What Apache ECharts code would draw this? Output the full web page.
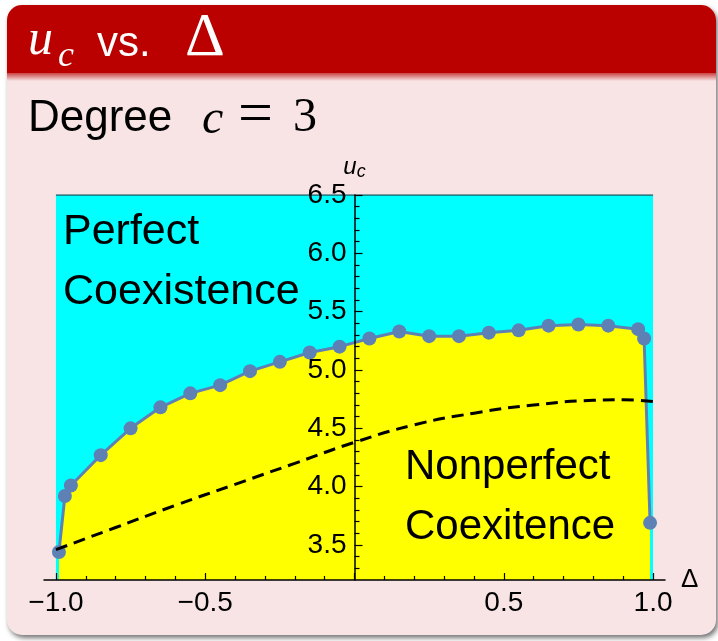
<!DOCTYPE html>
<html>
<head>
<meta charset="utf-8">
<title>u_c vs. Delta</title>
<script src="https://cdn.jsdelivr.net/npm/echarts@6.0.0/dist/echarts.min.js"></script>
<style>
  html, body { margin: 0; padding: 0; background: #ffffff; }
  #main { width: 718px; height: 641px; }
</style>
</head>
<body>
<div id="main"></div>
<script>
// 数据点 (Δ, u_c)
var deltaPts = [-0.99, -0.97, -0.95, -0.85, -0.75, -0.65, -0.55, -0.45, -0.35, -0.25, -0.15, -0.05,
  0.05, 0.15, 0.25, 0.35, 0.45, 0.55, 0.65, 0.75, 0.85, 0.95, 0.97, 0.99];
var ucPts = [3.44, 3.92, 4.01, 4.27, 4.50, 4.68, 4.80, 4.87, 4.99, 5.07, 5.15, 5.20,
  5.27, 5.33, 5.29, 5.29, 5.32, 5.34, 5.38, 5.39, 5.38, 5.35, 5.27, 3.69];

// 虚线
var deltaDash = [-1.0, -0.8, -0.6, -0.4, -0.2, 0.0, 0.2, 0.4, 0.6, 0.8, 0.9, 1.0];
var ucDash = [3.46, 3.65, 3.84, 4.02, 4.20, 4.38, 4.53, 4.63, 4.70, 4.74, 4.745, 4.73];

// 区域范围
var regionDelta = [-1.0, 1.0];
var regionTop = 6.5;

// 坐标轴
var xRange = [-1.04, 1.04];
var yRange = [3.2, 6.5];
var xLabels = [-1.0, -0.5, 0.5, 1.0];
var xMajorTicks = [-1.0, -0.5, 0.0, 0.5, 1.0];
var xMinorTicks = [-0.9, -0.8, -0.7, -0.6, -0.4, -0.3, -0.2, -0.1, 0.1, 0.2, 0.3, 0.4, 0.6, 0.7, 0.8, 0.9];
var yLabels = [3.5, 4.0, 4.5, 5.0, 5.5, 6.0, 6.5];
var yMinorTicks = [3.3, 3.4, 3.6, 3.7, 3.8, 3.9, 4.1, 4.2, 4.3, 4.4, 4.6, 4.7, 4.8, 4.9,
  5.1, 5.2, 5.3, 5.4, 5.6, 5.7, 5.8, 5.9, 6.1, 6.2, 6.3, 6.4];

var pairs = function (xs, ys) {
  var out = [];
  for (var i = 0; i < xs.length; i++) out.push([xs[i], ys[i]]);
  return out;
};

var fmt = function (v) {
  return (v < 0 ? '\u2212' : '') + Math.abs(v).toFixed(1);
};

var SANS = '"Liberation Sans", Arial, sans-serif';
var SERIF = '"Liberation Serif", "DejaVu Serif", serif';
var PTCOLOR = '#5E81B5';

var GRID_LEFT = 44, GRID_RIGHT = 53;
// y 轴放在 Δ = 0 处
var plotW = 718 - GRID_LEFT - GRID_RIGHT;
var yOffset = -plotW * (0 - xRange[0]) / (xRange[1] - xRange[0]);

var chart = echarts.init(document.getElementById('main'), null, { renderer: 'canvas' });

var option = {
  animation: false,
  backgroundColor: '#ffffff',
  graphic: [
    // 幻灯片框
    {
      type: 'rect', z: -10,
      shape: { x: 7, y: 5, width: 709, height: 630, r: 15 },
      style: { fill: '#F8E4E4', shadowBlur: 5, shadowOffsetX: 2, shadowOffsetY: 3, shadowColor: 'rgba(0,0,0,0.55)' }
    },
    {
      type: 'rect', z: -9,
      shape: { x: 7, y: 72, width: 709, height: 9 },
      style: {
        fill: new echarts.graphic.LinearGradient(0, 0, 0, 1, [
          { offset: 0, color: '#C43030' },
          { offset: 1, color: '#F8E4E4' }
        ])
      }
    },
    {
      type: 'rect', z: -8,
      shape: { x: 7, y: 5, width: 709, height: 68, r: [15, 15, 0, 0] },
      style: { fill: '#BB0000' }
    },
    // 标题
    { type: 'text', z: 100, x: 28, y: 41, style: { text: 'u', fill: '#fff', font: 'italic 50px ' + SERIF, verticalAlign: 'middle' } },
    { type: 'text', z: 100, x: 58, y: 57, style: { text: 'c', fill: '#fff', font: 'italic 36px ' + SERIF, verticalAlign: 'middle' } },
    { type: 'text', z: 100, x: 97, y: 44, style: { text: 'vs.', fill: '#fff', font: '42px ' + SANS, verticalAlign: 'middle' } },
    { type: 'text', z: 100, x: 185, y: 39, style: { text: '\u0394', fill: '#fff', font: '62px ' + SERIF, verticalAlign: 'middle' } },
    // 副标题
    { type: 'text', z: 100, x: 28, y: 119, style: { text: 'Degree', fill: '#000', font: '44px ' + SANS, verticalAlign: 'middle' } },
    { type: 'text', z: 100, x: 202, y: 120, style: { text: 'c', fill: '#000', font: 'italic 48px ' + SERIF, verticalAlign: 'middle' } },
    { type: 'text', z: 100, x: 238, y: 117, style: { text: '=', fill: '#000', font: '62px ' + SERIF, verticalAlign: 'middle' } },
    { type: 'text', z: 100, x: 293, y: 118, style: { text: '3', fill: '#000', font: '48px ' + SERIF, verticalAlign: 'middle' } },
    // 区域标注
    { type: 'text', z: 100, x: 63, y: 232, style: { text: 'Perfect', fill: '#000', font: '43px ' + SANS, verticalAlign: 'middle' } },
    { type: 'text', z: 100, x: 63, y: 292, style: { text: 'Coexistence', fill: '#000', font: '43px ' + SANS, verticalAlign: 'middle' } },
    { type: 'text', z: 100, x: 405, y: 467, style: { text: 'Nonperfect', fill: '#000', font: '42px ' + SANS, verticalAlign: 'middle' } },
    { type: 'text', z: 100, x: 405, y: 527, style: { text: 'Coexitence', fill: '#000', font: '42px ' + SANS, verticalAlign: 'middle' } }
  ],
  grid: { left: GRID_LEFT, right: GRID_RIGHT, top: 195, bottom: 61, containLabel: false },
  xAxis: [{
    type: 'value', min: xRange[0], max: xRange[1], position: 'bottom', z: 10,
    name: '\u0394', nameLocation: 'end', nameGap: 16,
    nameTextStyle: { fontFamily: SANS, fontSize: 26, color: '#000', verticalAlign: 'middle' },
    axisLine: { onZero: false, lineStyle: { color: '#000', width: 1.5 } },
    axisTick: { inside: true, length: 7, customValues: xMajorTicks, lineStyle: { color: '#000', width: 1.2 } },
    axisLabel: { customValues: xLabels, formatter: fmt, margin: 9, fontFamily: SANS, fontSize: 28, color: '#000' },
    splitLine: { show: false }
  }, {
    type: 'value', min: xRange[0], max: xRange[1], position: 'bottom', z: 10,
    axisLine: { show: false, onZero: false },
    axisTick: { inside: true, length: 4, customValues: xMinorTicks, lineStyle: { color: '#000', width: 1.2 } },
    axisLabel: { show: false },
    splitLine: { show: false }
  }],
  yAxis: [{
    type: 'value', min: yRange[0], max: yRange[1], position: 'left', offset: yOffset, z: 10,
    name: '{u|u}{c|c}', nameLocation: 'end', nameGap: 10,
    nameTextStyle: {
      rich: {
        u: { fontFamily: SANS, fontStyle: 'italic', fontSize: 24, color: '#000' },
        c: { fontFamily: SANS, fontStyle: 'italic', fontSize: 18, color: '#000', padding: [10, 0, 0, 0] }
      }
    },
    axisLine: { onZero: false, lineStyle: { color: '#000', width: 1.5 } },
    axisTick: { inside: true, length: 8, customValues: yLabels, lineStyle: { color: '#000', width: 1.2 } },
    axisLabel: { customValues: yLabels, formatter: fmt, margin: 8, fontFamily: SANS, fontSize: 28, color: '#000' },
    splitLine: { show: false }
  }, {
    type: 'value', min: yRange[0], max: yRange[1], position: 'left', offset: yOffset, z: 10,
    axisLine: { show: false, onZero: false },
    axisTick: { inside: true, length: 5, customValues: yMinorTicks, lineStyle: { color: '#000', width: 1.2 } },
    axisLabel: { show: false },
    splitLine: { show: false }
  }],
  series: [{
    // 青色背景 + 顶边
    type: 'line',
    z: 1,
    data: pairs(regionDelta, [regionTop, regionTop]),
    symbol: 'none',
    lineStyle: { color: '#1E5F66', width: 1.5 },
    markArea: {
      silent: true,
      itemStyle: { color: '#00FFFF', opacity: 1 },
      data: [[{ xAxis: regionDelta[0], yAxis: yRange[0] }, { xAxis: regionDelta[1], yAxis: regionTop }]]
    }
  }, {
    // 黄色区域 + 数据点
    type: 'line',
    z: 3,
    data: pairs(deltaPts, ucPts),
    symbol: 'circle',
    symbolSize: 14,
    showAllSymbol: true,
    itemStyle: { color: PTCOLOR },
    lineStyle: { color: PTCOLOR, width: 3 },
    areaStyle: { color: '#FFFF00', opacity: 1, origin: 'start' }
  }, {
    type: 'line',
    z: 4,
    data: pairs(deltaDash, ucDash),
    smooth: true,
    symbol: 'none',
    lineStyle: { color: '#000', width: 3, type: [12, 7] }
  }]
};

chart.setOption(option);
</script>
</body>
</html>
